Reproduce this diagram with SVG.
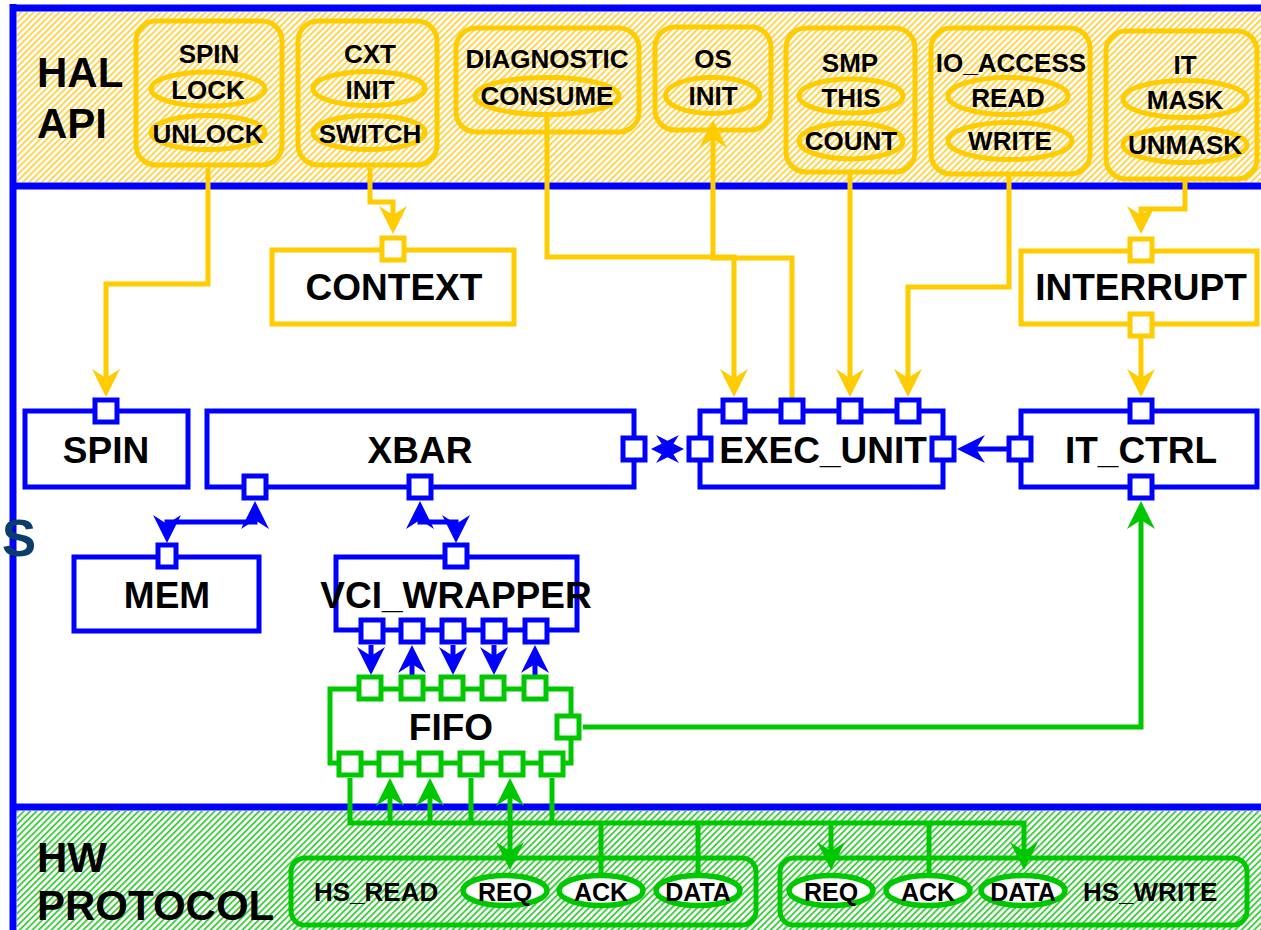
<svg xmlns="http://www.w3.org/2000/svg" width="1261" height="930" viewBox="0 0 1261 930">
  <defs>
    <pattern id="hatchY" patternUnits="userSpaceOnUse" width="4.5" height="4.5" patternTransform="rotate(45)">
      <rect width="4.5" height="4.5" fill="#ffffff"/>
      <rect width="1.9" height="4.5" fill="#ffd34d"/>
    </pattern>
    <pattern id="hatchG" patternUnits="userSpaceOnUse" width="4.5" height="4.5" patternTransform="rotate(45)">
      <rect width="4.5" height="4.5" fill="#ffffff"/>
      <rect width="1.9" height="4.5" fill="#44cc44"/>
    </pattern>
    <marker id="ay" viewBox="-16 -15 30 30" refX="0" refY="0" markerWidth="30" markerHeight="30" markerUnits="userSpaceOnUse" orient="auto-start-reverse">
      <path d="M13,0 L-15,-14 L-6,0 L-15,14 Z" fill="#ffcc00"/>
    </marker>
    <marker id="ab" viewBox="-16 -15 30 30" refX="0" refY="0" markerWidth="30" markerHeight="30" markerUnits="userSpaceOnUse" orient="auto-start-reverse">
      <path d="M13,0 L-15,-14 L-6,0 L-15,14 Z" fill="#0000ff"/>
    </marker>
    <marker id="ag" viewBox="-16 -15 30 30" refX="0" refY="0" markerWidth="30" markerHeight="30" markerUnits="userSpaceOnUse" orient="auto-start-reverse">
      <path d="M13,0 L-15,-14 L-6,0 L-15,14 Z" fill="#00c800"/>
    </marker>
    <style>
      .y { fill: none; stroke: #ffcc00; stroke-width: 5; }
      .b { fill: none; stroke: #0000ff; stroke-width: 5; }
      .g { fill: none; stroke: #00c800; stroke-width: 5; }
      .py { fill: #ffffff; stroke: #ffcc00; stroke-width: 5; }
      .pb { fill: #ffffff; stroke: #0000ff; stroke-width: 5; }
      .pg { fill: #ffffff; stroke: #00c800; stroke-width: 5; }
      .eg { fill: #ffffff; stroke: #00c800; stroke-width: 5.5; }
      .frame { stroke: #0000ff; stroke-width: 7; fill: none; }
      text { font-family: "Liberation Sans", Arial, sans-serif; font-weight: bold; fill: #000000; }
      .layer { font-size: 42px; }
      .api { font-size: 26px; text-anchor: middle; }
      .blk { font-size: 37px; text-anchor: middle; }
      .sig { font-size: 25px; text-anchor: middle; }
      .hs { font-size: 26px; }
    </style>
  </defs>

  <!-- layer bands -->
  <rect x="17" y="12" width="1244" height="170" fill="url(#hatchY)"/>
  <rect x="17" y="811" width="1244" height="119" fill="url(#hatchG)"/>
  <g id="frame">
    <line class="frame" x1="10" y1="8" x2="1261" y2="8"/>
    <line class="frame" x1="13" y1="4" x2="13" y2="930"/>
    <line class="frame" x1="10" y1="186" x2="1261" y2="186"/>
    <line class="frame" x1="10" y1="807" x2="1261" y2="807"/>
  </g>
  <text x="2" y="556" style="font-size:51px; fill:#0b3d6b">S</text>

  <text class="layer" x="37" y="87">HAL</text>
  <text class="layer" x="37" y="138">API</text>
  <text class="layer" x="37" y="872">HW</text>
  <text class="layer" x="37" y="920">PROTOCOL</text>

  <!-- connectors -->
  <g id="connectors">
    <!-- HAL API calls -->
    <path class="y" d="M208,168 V284 H106 V384" marker-end="url(#ay)"/>
    <path class="y" d="M370,168 V202 H393 V221" marker-end="url(#ay)"/>
    <path class="y" d="M547,117 V257 H734 V384" marker-end="url(#ay)"/>
    <path class="y" d="M792,400 V258 H713 V133" marker-end="url(#ay)"/>
    <path class="y" d="M850,171 V384" marker-end="url(#ay)"/>
    <path class="y" d="M1009,174 V287 H908 V384" marker-end="url(#ay)"/>
    <path class="y" d="M1185,179 V209 H1141 V221" marker-end="url(#ay)"/>
    <path class="y" d="M1141,338 V384" marker-end="url(#ay)"/>
    <!-- system bus -->
    <path class="b" d="M664,449 H671" marker-start="url(#ab)" marker-end="url(#ab)"/>
    <path class="b" d="M1007,449 H970" marker-end="url(#ab)"/>
    <path class="b" d="M167,530 V522 H255 V514" marker-start="url(#ab)" marker-end="url(#ab)"/>
    <path class="b" d="M420,514 V522 H456 V530" marker-start="url(#ab)" marker-end="url(#ab)"/>
    <!-- wrapper to fifo -->
    <path class="b" d="M371,645 V662" marker-end="url(#ab)"/>
    <path class="b" d="M412,675 V658" marker-end="url(#ab)"/>
    <path class="b" d="M453,645 V662" marker-end="url(#ab)"/>
    <path class="b" d="M494,645 V662" marker-end="url(#ab)"/>
    <path class="b" d="M535,675 V658" marker-end="url(#ab)"/>
    <!-- fifo interrupt line -->
    <path class="g" d="M583,727 H1141 V514" marker-end="url(#ag)"/>
    <!-- handshake signals -->
    <path class="g" d="M350,778 V823 H1024 V857" marker-end="url(#ag)"/>
    <path class="g" d="M390,823 V791" marker-end="url(#ag)"/>
    <path class="g" d="M430,823 V791" marker-end="url(#ag)"/>
    <path class="g" d="M471,778 V823"/>
    <path class="g" d="M510,823 V791" marker-end="url(#ag)"/>
    <path class="g" d="M510,823 V857" marker-end="url(#ag)"/>
    <path class="g" d="M552,778 V823"/>
    <path class="g" d="M601,823 V873"/>
    <path class="g" d="M698,823 V873"/>
    <path class="g" d="M831,823 V857" marker-end="url(#ag)"/>
    <path class="g" d="M929,823 V873"/>
  </g>

  <!-- HAL API services -->
  <g id="hal-spin">
    <rect class="y" x="136" y="21" width="146" height="144" rx="20"/>
    <text class="api" x="209" y="63">SPIN</text>
    <ellipse class="y" cx="208" cy="89" rx="57" ry="17"/>
    <text class="api" x="208" y="99">LOCK</text>
    <ellipse class="y" cx="208" cy="132.5" rx="57" ry="17"/>
    <text class="api" x="208" y="143">UNLOCK</text>
  </g>
  <g id="hal-cxt">
    <rect class="y" x="298" y="21" width="139" height="144" rx="20"/>
    <text class="api" x="370" y="63">CXT</text>
    <ellipse class="y" cx="369" cy="88.5" rx="56" ry="17"/>
    <text class="api" x="370" y="99">INIT</text>
    <ellipse class="y" cx="369" cy="132.5" rx="56" ry="17"/>
    <text class="api" x="370" y="143">SWITCH</text>
  </g>
  <g id="hal-diagnostic">
    <rect class="y" x="456" y="28" width="183" height="104" rx="20"/>
    <text class="api" x="547" y="68">DIAGNOSTIC</text>
    <ellipse class="y" cx="547" cy="96" rx="72" ry="18.5"/>
    <text class="api" x="547" y="105">CONSUME</text>
  </g>
  <g id="hal-os">
    <rect class="y" x="655" y="27" width="116" height="103" rx="20"/>
    <text class="api" x="713" y="68">OS</text>
    <ellipse class="y" cx="712.5" cy="95.5" rx="47" ry="18"/>
    <text class="api" x="713" y="105">INIT</text>
  </g>
  <g id="hal-smp">
    <rect class="y" x="786" y="28" width="129" height="144" rx="20"/>
    <text class="api" x="850" y="72">SMP</text>
    <ellipse class="y" cx="851" cy="96" rx="52" ry="17"/>
    <text class="api" x="851" y="107">THIS</text>
    <ellipse class="y" cx="851" cy="141" rx="52" ry="18"/>
    <text class="api" x="851" y="150">COUNT</text>
  </g>
  <g id="hal-io-access">
    <rect class="y" x="931" y="28" width="159" height="146" rx="20"/>
    <text class="api" x="1011" y="72">IO_ACCESS</text>
    <ellipse class="y" cx="1008" cy="96" rx="60" ry="18.5"/>
    <text class="api" x="1008" y="107">READ</text>
    <ellipse class="y" cx="1010" cy="141" rx="62" ry="18.5"/>
    <text class="api" x="1010" y="150">WRITE</text>
  </g>
  <g id="hal-it">
    <rect class="y" x="1106" y="31" width="151" height="148" rx="20"/>
    <text class="api" x="1185" y="74">IT</text>
    <ellipse class="y" cx="1185" cy="99" rx="62" ry="18.5"/>
    <text class="api" x="1185" y="109">MASK</text>
    <ellipse class="y" cx="1185" cy="145" rx="62" ry="17.5"/>
    <text class="api" x="1185" y="154">UNMASK</text>
  </g>

  <!-- software components -->
  <g id="context">
    <rect class="y" x="272" y="250" width="242" height="74"/>
    <rect class="py" x="382" y="238" width="22" height="22"/>
    <text class="blk" x="394" y="300">CONTEXT</text>
  </g>
  <g id="interrupt">
    <rect class="y" x="1021" y="251" width="236" height="73"/>
    <rect class="py" x="1130" y="239" width="22" height="22"/>
    <rect class="py" x="1130" y="314" width="22" height="22"/>
    <text class="blk" x="1141" y="300">INTERRUPT</text>
  </g>

  <!-- hardware model -->
  <g id="spin">
    <rect class="b" x="25" y="411" width="163" height="76"/>
    <rect class="pb" x="95" y="400" width="22" height="22"/>
    <text class="blk" x="106" y="463">SPIN</text>
  </g>
  <g id="xbar">
    <rect class="b" x="207" y="411" width="427" height="76"/>
    <rect class="pb" x="623" y="438" width="22" height="22"/>
    <rect class="pb" x="244" y="476" width="22" height="22"/>
    <rect class="pb" x="409" y="476" width="22" height="22"/>
    <text class="blk" x="420" y="463">XBAR</text>
  </g>
  <g id="exec-unit">
    <rect class="b" x="700" y="411" width="243" height="76"/>
    <rect class="pb" x="723" y="400" width="22" height="22"/>
    <rect class="pb" x="781" y="400" width="22" height="22"/>
    <rect class="pb" x="839" y="400" width="22" height="22"/>
    <rect class="pb" x="897" y="400" width="22" height="22"/>
    <rect class="pb" x="689" y="438" width="22" height="22"/>
    <rect class="pb" x="932" y="438" width="22" height="22"/>
    <text class="blk" x="823" y="463">EXEC_UNIT</text>
  </g>
  <g id="it-ctrl">
    <rect class="b" x="1021" y="411" width="236" height="76"/>
    <rect class="pb" x="1130" y="400" width="22" height="22"/>
    <rect class="pb" x="1009" y="438" width="22" height="22"/>
    <rect class="pb" x="1130" y="476" width="22" height="22"/>
    <text class="blk" x="1141" y="463">IT_CTRL</text>
  </g>
  <g id="mem">
    <rect class="b" x="74" y="557" width="185" height="74"/>
    <rect class="pb" x="158" y="545" width="18" height="22"/>
    <text class="blk" x="167" y="608">MEM</text>
  </g>
  <g id="vci-wrapper">
    <rect class="b" x="336" y="557" width="241" height="73"/>
    <rect class="pb" x="445" y="545" width="22" height="22"/>
    <rect class="pb" x="361" y="620" width="22" height="22"/>
    <rect class="pb" x="401" y="620" width="22" height="22"/>
    <rect class="pb" x="442" y="620" width="22" height="22"/>
    <rect class="pb" x="483" y="620" width="22" height="22"/>
    <rect class="pb" x="525" y="620" width="22" height="22"/>
    <text class="blk" x="456" y="608">VCI_WRAPPER</text>
  </g>
  <g id="fifo">
    <rect class="g" x="330" y="689" width="241" height="74"/>
    <rect class="pg" x="359" y="677" width="22" height="22"/>
    <rect class="pg" x="401" y="677" width="22" height="22"/>
    <rect class="pg" x="441" y="677" width="22" height="22"/>
    <rect class="pg" x="482" y="677" width="22" height="22"/>
    <rect class="pg" x="524" y="677" width="22" height="22"/>
    <rect class="pg" x="557" y="716" width="22" height="22"/>
    <rect class="pg" x="339" y="753" width="22" height="22"/>
    <rect class="pg" x="379" y="753" width="22" height="22"/>
    <rect class="pg" x="419" y="753" width="22" height="22"/>
    <rect class="pg" x="460" y="753" width="22" height="22"/>
    <rect class="pg" x="501" y="753" width="22" height="22"/>
    <rect class="pg" x="541" y="753" width="22" height="22"/>
    <text class="blk" x="451" y="740">FIFO</text>
  </g>

  <!-- handshake protocols -->
  <g id="hs-read">
    <rect class="g" x="291" y="858" width="465" height="67" rx="14"/>
    <text class="hs" x="314" y="901">HS_READ</text>
    <ellipse class="eg" cx="505" cy="890.5" rx="42" ry="15"/>
    <text class="sig" x="505" y="901">REQ</text>
    <ellipse class="eg" cx="601" cy="890.5" rx="42" ry="15"/>
    <text class="sig" x="601" y="901">ACK</text>
    <ellipse class="eg" cx="698" cy="890.5" rx="42" ry="15"/>
    <text class="sig" x="698" y="901">DATA</text>
  </g>
  <g id="hs-write">
    <rect class="g" x="780" y="858" width="467" height="67" rx="14"/>
    <ellipse class="eg" cx="831" cy="890.5" rx="42" ry="15"/>
    <text class="sig" x="831" y="901">REQ</text>
    <ellipse class="eg" cx="928" cy="890.5" rx="42" ry="15"/>
    <text class="sig" x="928" y="901">ACK</text>
    <ellipse class="eg" cx="1023" cy="890.5" rx="42" ry="15"/>
    <text class="sig" x="1023" y="901">DATA</text>
    <text class="hs" x="1083" y="901">HS_WRITE</text>
  </g>
</svg>
